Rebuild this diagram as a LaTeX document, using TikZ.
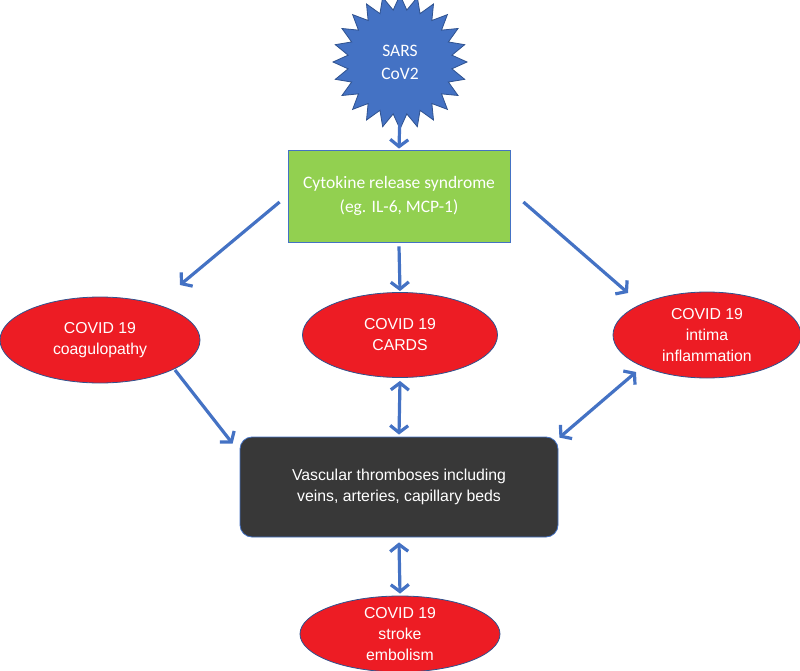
\documentclass[tikz,border=0pt]{standalone}
\usepackage{fontspec}
\setmainfont{Liberation Sans}
\newfontfamily\calibri{Carlito}
\usetikzlibrary{shapes.geometric,arrows.meta}
\definecolor{arrblue}{HTML}{4472C4}
\definecolor{edgeblue}{HTML}{2F528F}
\definecolor{cytgreen}{HTML}{92D050}
\definecolor{covred}{HTML}{ED1C24}
\definecolor{vasgray}{HTML}{383838}
\tikzset{
  arr/.style={arrblue, line width=3.2pt, -{Straight Barb[length=7pt,width=18pt]}},
  darr/.style={arrblue, line width=3.2pt, {Straight Barb[length=7pt,width=18pt]}-{Straight Barb[length=7pt,width=18pt]}},
  covid/.style={ellipse, draw=edgeblue, line width=0.8pt, fill=covred, text=white, inner sep=0pt,
    align=center, font=\fontsize{15.8}{21}\selectfont},
}

\begin{document}
\begin{tikzpicture}[x=1pt, y=-1pt]
  \useasboundingbox (0,0) rectangle (800,671);
  % trigger
  \node[star, star points=24, star point ratio=1.28, minimum size=134pt, draw=edgeblue, line width=0.8pt,
    fill=arrblue, text=white, align=center, font=\calibri\fontsize{17.5}{23}\selectfont] (sars) at (400,62) {SARS\\CoV2};
  % cytokine storm
  \node[draw=arrblue, line width=0.8pt, fill=cytgreen, text=white, minimum width=222pt, minimum height=92pt,
    align=center, font=\calibri\fontsize{17.5}{24}\selectfont] (cyto) at (399,196) {Cytokine release syndrome\\(eg. IL-6, MCP-1)};
  % complications
  \node[covid, minimum width=200pt, minimum height=86pt] (coag) at (100,340) {COVID 19\\coagulopathy};
  \node[covid, minimum width=195pt, minimum height=85pt] (cards) at (400,335) {COVID 19\\CARDS};
  \node[covid, minimum width=188pt, minimum height=86pt] (intima) at (707,335) {COVID 19\\intima\\inflammation};
  % thromboses
  \node[draw=arrblue, line width=0.8pt, fill=vasgray, text=white, rounded corners=12pt, minimum width=318pt,
    minimum height=100pt, align=center, font=\fontsize{15.8}{21.5}\selectfont] (vasc) at (399,487) {Vascular thromboses including\\veins, arteries, capillary beds};
  \node[covid, minimum width=200pt, minimum height=76pt] (stroke) at (400,634) {COVID 19\\stroke\\embolism};
  % arrows
  \draw[arr] ([yshift=-50pt]sars.center) -- ([yshift=1pt]cyto.north);
  \draw[arr] ([yshift=-4pt]cyto.south) -- ([yshift=1pt]cards.north);
  \draw[arr] ([shift={(-8,6)}]cyto.west) -- ([shift={(80,-55)}]coag.center);
  \draw[arr] ([shift={(13,6)}]cyto.east) -- ([shift={(-79,-42)}]intima.center);
  \draw[arr] ([shift={(75,30)}]coag.center) -- ([shift={(-7,7)}]vasc.north west);
  \draw[darr] ([yshift=-3pt]cards.south) -- ([yshift=2pt]vasc.north);
  \draw[darr] ([shift={(1,1)}]vasc.north east) -- ([shift={(-71,37)}]intima.center);
  \draw[darr] ([yshift=-5pt]vasc.south) -- ([yshift=2pt]stroke.north);
\end{tikzpicture}
\end{document}
